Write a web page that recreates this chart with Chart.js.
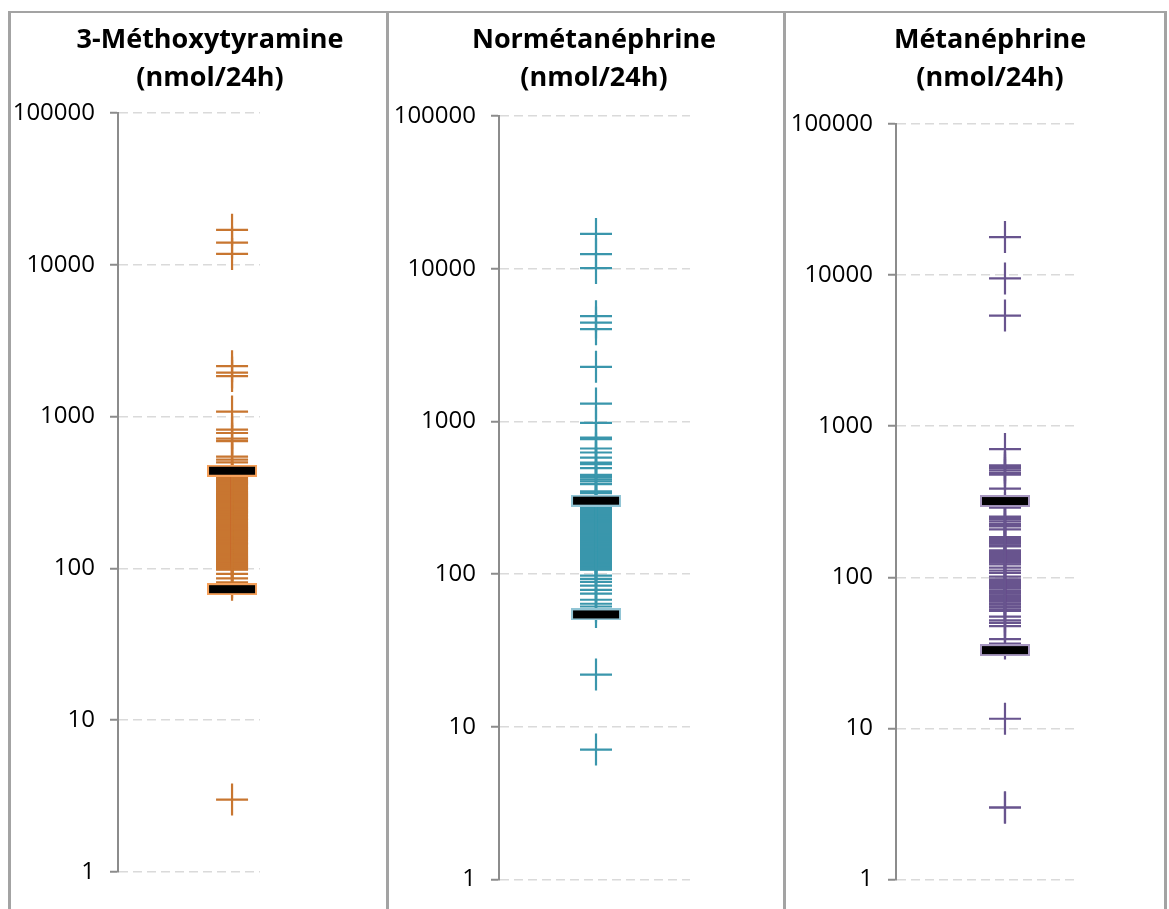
<!DOCTYPE html>
<html>
<head>
<meta charset="utf-8">
<script src="https://cdn.jsdelivr.net/npm/chart.js@4/dist/chart.umd.min.js"></script>
<style>
  html, body { margin: 0; padding: 0; background: #fff; overflow: hidden; }
  body { width: 1169px; height: 909px; position: relative; }
  canvas { position: absolute; }
  .rule { position: absolute; background: #a3a3a3; }
</style>
</head>
<body>
<div class="rule" style="left:9px; top:11px; width:1158px; height:2px;"></div>
<div class="rule" style="left:8px; top:11px; width:3px; height:898px;"></div>
<div class="rule" style="left:386px; top:11px; width:3px; height:898px;"></div>
<div class="rule" style="left:783px; top:11px; width:3px; height:898px;"></div>
<div class="rule" style="left:1164px; top:11px; width:3px; height:898px;"></div>
<canvas id="c1"></canvas>
<canvas id="c2"></canvas>
<canvas id="c3"></canvas>
<script>
(() => {
  "use strict";

  // ---------- data (nmol/24h) ----------
  const yTicks = [1, 10, 100, 1000, 10000, 100000];

  const mtyTitle = ["3-Méthoxytyramine", "(nmol/24h)"];
  const mtyValues = [
    17000, 14000, 11800,
    2150, 1950, 1850,
    1080,
    820, 780, 715, 690,
    545, 520, 500,
    420, 412, 405, 398, 392, 385, 378, 372, 366, 359, 352, 346, 340, 335, 331,
    325, 320, 314, 309, 304, 300, 295, 291, 286, 282, 278, 274, 270, 266, 261,
    257, 253, 249, 245, 242, 238, 235, 231, 227, 223, 220, 216, 213, 210, 207,
    203, 200, 197, 194, 191, 188, 185, 182, 179, 177, 174, 171, 168, 166, 163,
    161, 158, 156, 153, 151, 148, 146, 144, 142, 139, 137, 135, 133, 131, 129,
    127, 125, 123, 121, 119, 117, 115, 114, 112, 110, 108, 107, 105, 104, 102,
    101, 99, 98, 92, 86, 81, 78,
    3,
  ];
  const mtyLimits = [440, 73];

  const nmnTitle = ["Normétanéphrine", "(nmol/24h)"];
  const nmnValues = [
    16900, 12450, 10100,
    4890, 4440, 4020,
    2280,
    1310,
    980,
    785, 765, 665, 626, 580, 538, 525, 494,
    447, 432, 418, 405, 389, 348, 339,
    322, 310, 296, 284, 277, 272, 268, 263, 259, 255, 251, 247, 243, 239, 236,
    232, 229, 225, 222, 218, 215, 211, 208, 205, 202, 199, 196, 193, 190, 187,
    184, 181, 178, 175, 173, 170, 168, 165, 163, 160, 158, 155, 153, 151, 149,
    146, 144, 142, 140, 138, 136, 134, 132, 130, 128, 126, 124, 122, 120, 118,
    117, 115, 113, 111, 110, 108, 107,
    97.7, 93, 89, 84, 79, 74.5, 68, 64, 61.4, 56.5,
    22, 7.1,
  ];
  const nmnLimits = [303, 54.5];

  const mnTitle = ["Métanéphrine", "(nmol/24h)"];
  const mnValues = [
    17860, 9510, 5400,
    706,
    551, 540, 529, 511, 491, 478,
    387, 289,
    252, 247, 243, 235, 226, 221, 217, 208,
    185, 182, 179, 176, 173, 170, 167, 163, 160,
    151, 148, 145, 142, 140, 137, 134, 131, 128, 125, 122,
    116, 111, 107,
    101, 97, 95, 93, 91, 89, 87, 85, 82, 80,
    78, 76, 75, 73, 72, 70, 69, 67, 66, 64, 63, 61, 60,
    55, 52, 50, 47.5,
    39, 36.5,
    11.6, 3, 3,
  ];
  const mnLimits = [320, 33];

  // ---------- styling ----------
  const AXIS = "#8c8c8c";
  const GRID = "#dadada";
  const FONT = "'Open Sans', sans-serif";

  // black percentile bar with a light outline, used as a point style
  function barImage(outline) {
    const c = document.createElement("canvas");
    c.width = 50;
    c.height = 12;
    const g = c.getContext("2d");
    g.fillStyle = outline;
    g.fillRect(0, 0, 50, 12);
    g.fillStyle = "#000";
    g.fillRect(2, 2, 46, 8);
    return c;
  }

  const toPoints = (vals) => vals.map((v) => ({ x: 1, y: v }));

  function makePanel(p) {
    const cv = document.getElementById(p.id);
    cv.width = p.w;
    cv.height = p.h;
    cv.style.left = p.left + "px";
    cv.style.top = p.top + "px";
    cv.style.width = p.w + "px";
    cv.style.height = p.h + "px";

    return new Chart(cv, {
      type: "scatter",
      data: {
        datasets: [
          {
            data: toPoints(p.limits),
            pointStyle: barImage(p.outline),
            pointRadius: 6,
            yAxisID: "y",
          },
          {
            data: toPoints(p.values),
            pointStyle: "cross",
            pointRadius: 16,
            borderColor: p.color,
            backgroundColor: p.color,
            pointBorderWidth: 2.2,
            yAxisID: "y",
          },
        ],
      },
      options: {
        responsive: false,
        animation: false,
        devicePixelRatio: 1,
        layout: { padding: { top: 0, left: 0, right: 0, bottom: p.padBottom } },
        plugins: {
          legend: { display: false },
          tooltip: { enabled: false },
          title: {
            display: true,
            text: p.title,
            color: "#000",
            font: { family: FONT, size: 27, weight: "bold", lineHeight: "38px" },
            padding: { top: 9, bottom: p.titleGap },
          },
        },
        scales: {
          x: { type: "linear", display: false, min: 0, max: p.xMax },
          y: {
            type: "logarithmic",
            position: "left",
            min: 1,
            max: 100000,
            afterBuildTicks: (s) => { s.ticks = yTicks.map((v) => ({ value: v })); },
            afterFit: (s) => { s.width = p.axisW; },
            ticks: {
              color: "#000",
              font: { family: FONT, size: 24 },
              padding: 15,
              callback: (v) => String(v),
            },
            grid: {
              color: GRID,
              lineWidth: 1.5,
              tickLength: 8,
              tickColor: AXIS,
              tickWidth: 2,
            },
            border: { display: true, color: AXIS, width: 2, dash: [9, 5] },
          },
          yR: {
            type: "linear",
            position: "right",
            display: true,
            grid: { display: false },
            border: { display: false },
            ticks: { display: false },
            afterFit: (s) => { s.width = p.spacerW; },
          },
        },
      },
    });
  }

  makePanel({
    id: "c1", left: 10, top: 12, w: 400, h: 897,
    axisW: 108, spacerW: 150, xMax: 1.245, titleGap: 16, padBottom: 37,
    title: mtyTitle, values: mtyValues, limits: mtyLimits,
    color: "#c87630", outline: "#f5a05a",
  });
  makePanel({
    id: "c2", left: 388, top: 12, w: 412, h: 897,
    axisW: 111, spacerW: 110, xMax: 1.969, titleGap: 19, padBottom: 29,
    title: nmnTitle, values: nmnValues, limits: nmnLimits,
    color: "#3a96ac", outline: "#92c5d5",
  });
  makePanel({
    id: "c3", left: 785, top: 12, w: 410, h: 897,
    axisW: 111, spacerW: 117, xMax: 1.67, titleGap: 27, padBottom: 25,
    title: mnTitle, values: mnValues, limits: mnLimits,
    color: "#68548e", outline: "#a898c0",
  });
})();
</script>
</body>
</html>
